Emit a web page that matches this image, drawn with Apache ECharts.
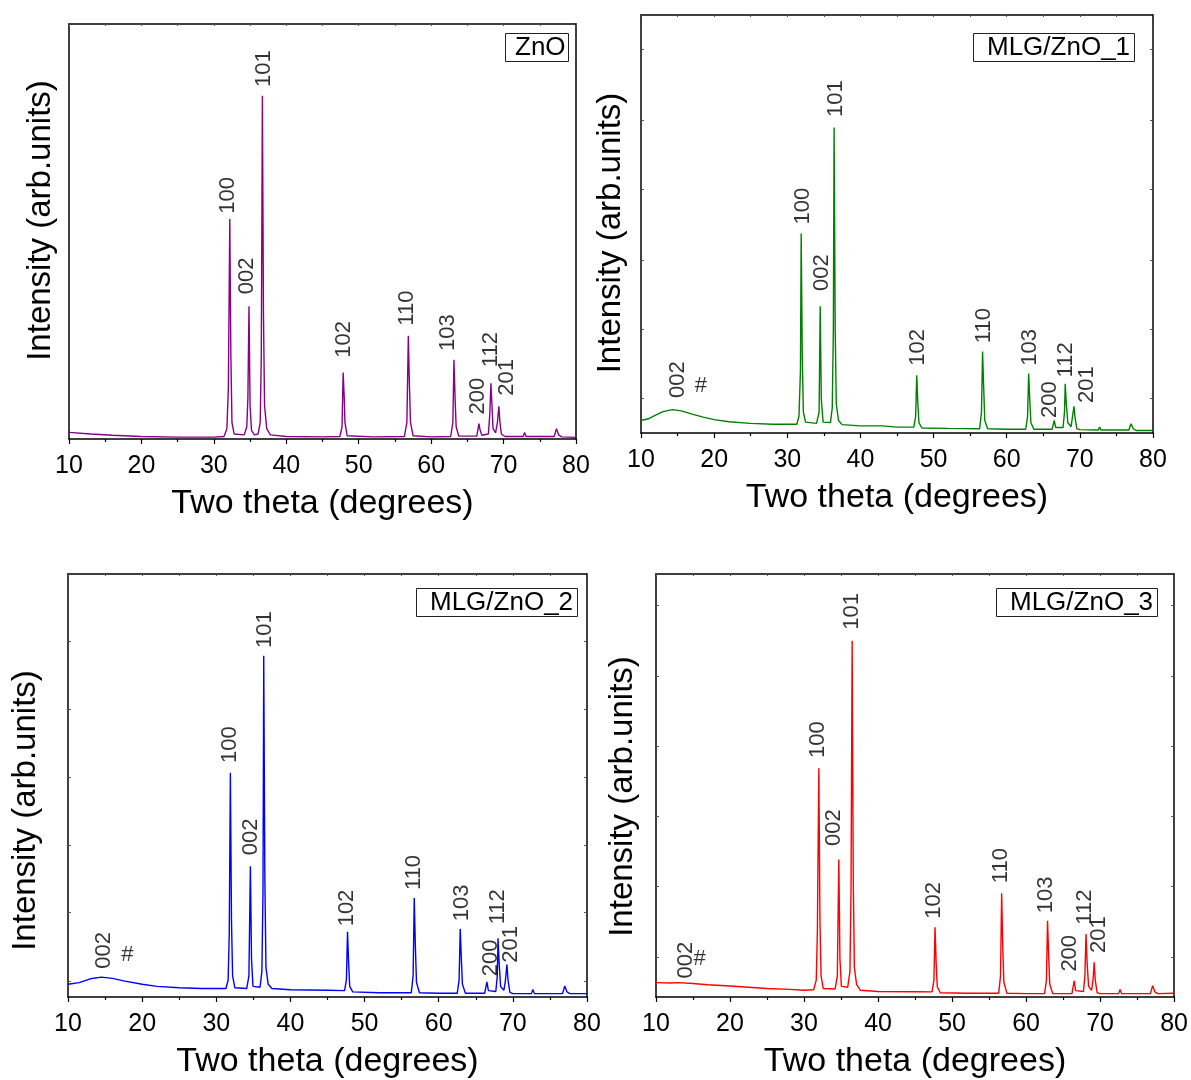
<!DOCTYPE html>
<html>
<head>
<meta charset="utf-8">
<script src="https://cdn.jsdelivr.net/npm/echarts@6/dist/echarts.min.js"></script>
<style>
  html, body { margin: 0; padding: 0; background: #fff; }
  #chart { width: 1191px; height: 1080px; }
</style>
</head>
<body>
<div id="chart"></div>
<script>
// ---- Data: XRD patterns, intensity in arbitrary units (0-100 of the panel height) ----
const twoThetaTicks = [10, 20, 30, 40, 50, 60, 70, 80];

const znoPattern = [
  [10,1.6],[13,1.2],[16,0.9],[20,0.6],[25,0.45],[30,0.45],[31.4,0.6],[31.8,2.5],[32.0,12],[32.2,53.0],[32.35,20],[32.5,4],[32.8,1.2],
  [34.2,1.0],[34.55,3],[34.7,10],[34.85,32.0],[35.0,8],[35.2,2],[35.6,1.0],[36.1,1.2],[36.4,4],[36.55,20],[36.7,82.7],[36.85,30],[37.0,8],[37.3,2.5],[37.8,1.0],
  [40,0.6],[45,0.5],[47.4,0.6],[47.7,3],[47.85,16.0],[48.0,10],[48.1,4],[48.4,0.8],[52,0.5],
  [56.3,0.6],[56.65,4],[56.85,24.9],[57.0,13],[57.15,4],[57.5,0.8],[60,0.5],
  [62.7,0.6],[63.0,4],[63.15,19.1],[63.3,10],[63.45,3],[63.8,0.7],[66.3,0.7],[66.6,3.7],[66.75,2.2],[67.0,0.9],
  [67.9,1.2],[68.1,6],[68.25,13.4],[68.4,8],[68.55,2.5],[68.9,1.5],[69.15,4],[69.35,7.9],[69.5,4],[69.7,1.2],[70.2,0.6],
  [72.7,0.6],[72.9,1.6],[73.1,0.6],[77.0,0.6],[77.3,2.5],[77.6,1.0],[78,0.5],[80,0.4]
];
const mlg1Pattern = [
  [10,3.0],[11,3.4],[12,4.3],[13,5.1],[14.3,5.6],[15.5,5.3],[17,4.5],[18.5,3.8],[20,3.2],[22,2.7],[25,2.3],[28,2.1],[31.3,2.1],
  [31.6,4],[31.8,15],[31.9,47.7],[32.05,18],[32.2,5],[32.5,2.6],[34.0,2.3],[34.35,5],[34.5,30.3],[34.65,8],[34.9,2.6],
  [35.9,2.5],[36.15,6],[36.3,25],[36.4,73.1],[36.55,25],[36.7,7],[37.0,3],[37.5,2.0],[40,1.7],[43,1.7],[45,1.4],
  [47.3,1.4],[47.55,4],[47.7,13.8],[47.85,7],[48.0,2.5],[48.4,1.2],[52,1.1],
  [56.3,1.0],[56.55,5],[56.7,19.5],[56.85,11],[57.0,3],[57.4,1.0],[60,0.9],
  [62.6,0.9],[62.85,4],[63.0,14.2],[63.15,8],[63.3,2.5],[63.7,0.9],[66.2,0.9],[66.5,3.0],[66.7,1.3],
  [67.7,1.3],[67.9,5],[68.0,11.8],[68.15,7],[68.35,2.5],[68.8,1.5],[69.0,4],[69.2,6.4],[69.35,3.5],[69.6,1.0],[70,0.8],
  [72.5,0.7],[72.7,1.4],[72.9,0.7],[76.7,0.7],[77.0,2.2],[77.3,1.0],[77.7,0.6],[80,0.6]
];
const mlg2Pattern = [
  [10,3.0],[11.5,3.4],[13,4.3],[14.5,4.7],[16,4.4],[17.5,3.8],[20,3.0],[22,2.5],[25,2.2],[28,2.0],[31.3,2.0],
  [31.6,4],[31.75,15],[31.9,53.0],[32.05,18],[32.2,5],[32.5,2.2],[34.1,2.0],[34.4,5],[34.6,30.9],[34.75,9],[34.95,2.5],
  [35.9,2.3],[36.15,6],[36.3,25],[36.4,80.7],[36.55,28],[36.7,7],[37.0,3],[37.5,2.0],[40,1.7],[45,1.6],
  [47.3,1.5],[47.55,4],[47.7,15.4],[47.85,8],[48.0,2.5],[48.4,1.2],[52,1.0],
  [56.3,1.0],[56.55,5],[56.7,23.4],[56.85,12],[57.0,3.5],[57.4,1.0],[60,0.9],
  [62.5,0.9],[62.75,4],[62.9,16.1],[63.05,9],[63.2,3],[63.6,0.9],[66.2,0.9],[66.5,3.6],[66.7,1.5],
  [67.7,1.3],[67.9,5],[68.0,13.9],[68.15,8],[68.35,2.5],[68.8,1.6],[69.0,4],[69.2,7.7],[69.35,4],[69.6,1.1],[70,0.8],
  [72.5,0.8],[72.7,1.8],[72.9,0.8],[76.7,0.8],[77.0,2.6],[77.3,1.2],[77.7,0.8],[80,0.8]
];
const mlg3Pattern = [
  [10,3.4],[12,3.3],[13,3.4],[15,3.2],[17,2.9],[20,2.6],[22.5,2.3],[25,2.0],[28,1.8],[30,1.6],[31.3,1.7],
  [31.65,4],[31.8,15],[32.0,54.1],[32.15,18],[32.3,5],[32.6,2.0],[34.2,1.9],[34.5,5],[34.7,32.5],[34.85,9],[35.05,2.5],
  [35.9,2.3],[36.2,6],[36.35,25],[36.5,84.2],[36.65,28],[36.8,7],[37.1,3],[37.6,1.6],[40,1.3],[45,1.25],
  [47.3,1.2],[47.55,4],[47.7,16.5],[47.85,8],[48.0,2.5],[48.4,1.0],[52,0.9],
  [56.3,0.9],[56.55,5],[56.7,24.5],[56.85,12],[57.0,3.5],[57.4,0.9],[60,0.8],
  [62.5,0.8],[62.75,4],[62.9,18.0],[63.05,10],[63.2,3],[63.6,0.8],[66.2,0.8],[66.5,3.8],[66.7,1.5],
  [67.75,1.3],[67.95,5],[68.1,14.9],[68.25,8],[68.45,2.5],[68.85,1.6],[69.05,4],[69.2,8.2],[69.35,4],[69.6,1.0],[70,0.8],
  [72.5,0.8],[72.7,1.8],[72.9,0.8],[76.8,0.8],[77.1,2.7],[77.4,1.2],[77.8,0.8],[80,0.9]
];

// Miller-index annotations: [text, two theta, intensity at the foot of the text]
const znoLabels = [['100',31.9,54.3],['002',34.55,34.9],['101',36.9,84.8],['102',47.9,19.6],['110',56.7,27.3],['103',62.3,21.2],['200',66.5,5.9],['112',68.2,17.3],['201',70.5,10.4]];
const mlg1Labels = [['002',15.0,8.4],['100',32.2,49.9],['002',34.8,34.0],['101',36.6,75.6],['102',47.8,16.1],['110',56.9,21.5],['103',63.2,16.1],['200',65.9,3.6],['112',68.1,13.3],['201',71.0,7.2]];
const mlg2Labels = [['002',14.9,6.7],['100',31.8,55.3],['002',34.7,33.5],['101',36.5,82.5],['102',47.6,16.7],['110',56.6,25.3],['103',63.1,17.9],['200',67.0,4.9],['112',68.0,17.2],['201',69.8,8.1]];
const mlg3Labels = [['002',14.0,4.4],['100',31.9,56.5],['002',34.1,35.7],['101',36.5,86.8],['102',47.6,18.5],['110',56.6,26.9],['103',62.7,19.8],['200',65.9,6.0],['112',68.0,17.1],['201',69.8,10.4]];

// Graphite (002) marker positions: [two theta, intensity]
const mlg1Hash = [18.2, 11.3];
const mlg2Hash = [18.0, 10.0];
const mlg3Hash = [15.9, 8.9];

// Frame tick positions on the intensity axes
const mlg1YTicks = [8.4, 24.9, 41.4, 58.3, 74.8, 91.7];
const mlg2YTicks = [3.8, 20.1, 35.9, 52.0, 68.0, 84.1];
const mlg3YTicks = [9.5, 26.1, 42.7, 59.3, 75.9, 92.5];

const sampleNames = ['ZnO', 'MLG/ZnO_1', 'MLG/ZnO_2', 'MLG/ZnO_3'];

// ---- Layout and styling ----
const FONT = 'Liberation Sans, Arial, sans-serif';
const panels = [
  { name: sampleNames[0], pattern: znoPattern, labels: znoLabels, hash: null, yTicks: [], color: '#880088',
    grid: { left: 69, top: 24, width: 507, height: 415 }, yGap: 12, yPad: [0, 0, 0, 22],
    box: { left: 505, top: 33, padding: [1, 3, 1, 10] } },
  { name: sampleNames[1], pattern: mlg1Pattern, labels: mlg1Labels, hash: mlg1Hash, yTicks: mlg1YTicks, color: '#008000',
    grid: { left: 641, top: 15, width: 512, height: 418 }, yGap: 14, yPad: [0, 18, 0, 0],
    box: { left: 973, top: 33, padding: [1, 5, 1, 14] } },
  { name: sampleNames[2], pattern: mlg2Pattern, labels: mlg2Labels, hash: mlg2Hash, yTicks: mlg2YTicks, color: '#0000ff',
    grid: { left: 68, top: 574, width: 519, height: 423 }, yGap: 26, yPad: [0, 50, 0, 0],
    box: { left: 416, top: 588, padding: [1, 5, 1, 14] } },
  { name: sampleNames[3], pattern: mlg3Pattern, labels: mlg3Labels, hash: mlg3Hash, yTicks: mlg3YTicks, color: '#ff0000',
    grid: { left: 656, top: 574, width: 520, height: 424 }, yGap: 17, yPad: [0, 22, 0, 0],
    box: { left: 996, top: 588, padding: [1, 5, 1, 14] } }
];

const xMin = twoThetaTicks[0];
const xMax = twoThetaTicks[twoThetaTicks.length - 1];
const xStep = twoThetaTicks[1] - twoThetaTicks[0];
const black = '#000';

const option = {
  animation: false,
  backgroundColor: '#fff',
  title: [], grid: [], xAxis: [], yAxis: [], series: []
};

panels.forEach((p, i) => {
  option.grid.push(Object.assign({ containLabel: false }, p.grid));

  // bottom axis with labels and outward ticks
  option.xAxis.push({
    gridIndex: i, type: 'value', position: 'bottom', min: xMin, max: xMax, interval: xStep,
    axisLine: { show: true, onZero: false, lineStyle: { color: black, width: 1.5 } },
    axisTick: { show: true, inside: false, length: 5, lineStyle: { color: black, width: 1.2 } },
    minorTick: { show: true, splitNumber: 2, length: 3, lineStyle: { color: black, width: 1.2 } },
    axisLabel: { show: true, fontSize: 25, color: black, fontFamily: FONT, margin: 15 },
    splitLine: { show: false }, minorSplitLine: { show: false },
    name: 'Two theta (degrees)', nameLocation: 'middle', nameGap: 48,
    nameTextStyle: { fontSize: 34, color: black, fontFamily: FONT }
  });
  // top frame with small inward ticks
  option.xAxis.push({
    gridIndex: i, type: 'value', position: 'top', min: xMin, max: xMax, interval: xStep,
    axisLine: { show: true, onZero: false, lineStyle: { color: black, width: 1.5 } },
    axisTick: { show: true, inside: true, length: 2, lineStyle: { color: '#555', width: 1 } },
    minorTick: { show: true, splitNumber: 2, length: 2, lineStyle: { color: '#555', width: 1 } },
    axisLabel: { show: false }, splitLine: { show: false }
  });
  // left intensity axis
  option.yAxis.push({
    gridIndex: i, type: 'value', position: 'left', min: 0, max: 100,
    axisLine: { show: true, onZero: false, lineStyle: { color: black, width: 1.5 } },
    axisTick: { show: p.yTicks.length > 0, inside: true, length: 3, customValues: p.yTicks, lineStyle: { color: '#555', width: 1 } },
    axisLabel: { show: false }, splitLine: { show: false },
    name: 'Intensity (arb.units)', nameLocation: 'middle', nameRotate: 90, nameGap: p.yGap,
    nameTextStyle: { fontSize: 33, color: black, fontFamily: FONT, padding: p.yPad }
  });
  // right frame
  option.yAxis.push({
    gridIndex: i, type: 'value', position: 'right', min: 0, max: 100,
    axisLine: { show: true, onZero: false, lineStyle: { color: black, width: 1.5 } },
    axisTick: { show: p.yTicks.length > 0, inside: true, length: 3, customValues: p.yTicks, lineStyle: { color: '#555', width: 1 } },
    axisLabel: { show: false }, splitLine: { show: false }
  });

  // diffraction pattern
  option.series.push({
    type: 'line', xAxisIndex: 2 * i, yAxisIndex: 2 * i,
    data: p.pattern, showSymbol: false, symbol: 'none', smooth: false,
    lineStyle: { color: p.color, width: 1.4 }, silent: true, z: 3
  });

  // rotated Miller indices
  option.series.push({
    type: 'scatter', xAxisIndex: 2 * i, yAxisIndex: 2 * i, symbolSize: 0.01, silent: true, z: 4,
    data: p.labels.map(l => ({ name: l[0], value: [l[1], l[2]] })),
    itemStyle: { color: 'transparent' },
    label: {
      show: true, formatter: '{b}', position: [0, 0], rotate: 90, align: 'left', verticalAlign: 'middle',
      fontSize: 22, color: black, fontFamily: FONT
    }
  });

  // graphite marker
  if (p.hash) {
    option.series.push({
      type: 'scatter', xAxisIndex: 2 * i, yAxisIndex: 2 * i, symbolSize: 0.01, silent: true, z: 4,
      data: [{ name: '#', value: p.hash }],
      itemStyle: { color: 'transparent' },
      label: {
        show: true, formatter: '{b}', position: [0, 0], align: 'center', verticalAlign: 'middle',
        fontSize: 22, color: black, fontFamily: FONT
      }
    });
  }

  // sample tag box
  option.title.push({
    text: p.name, left: p.box.left, top: p.box.top, padding: p.box.padding,
    borderColor: '#222', borderWidth: 1, backgroundColor: '#fff',
    textStyle: { fontSize: 26, fontWeight: 'normal', color: black, fontFamily: FONT, lineHeight: 27 }
  });
});

const chart = echarts.init(document.getElementById('chart'), null, { renderer: 'canvas' });
chart.setOption(option);
</script>
</body>
</html>
